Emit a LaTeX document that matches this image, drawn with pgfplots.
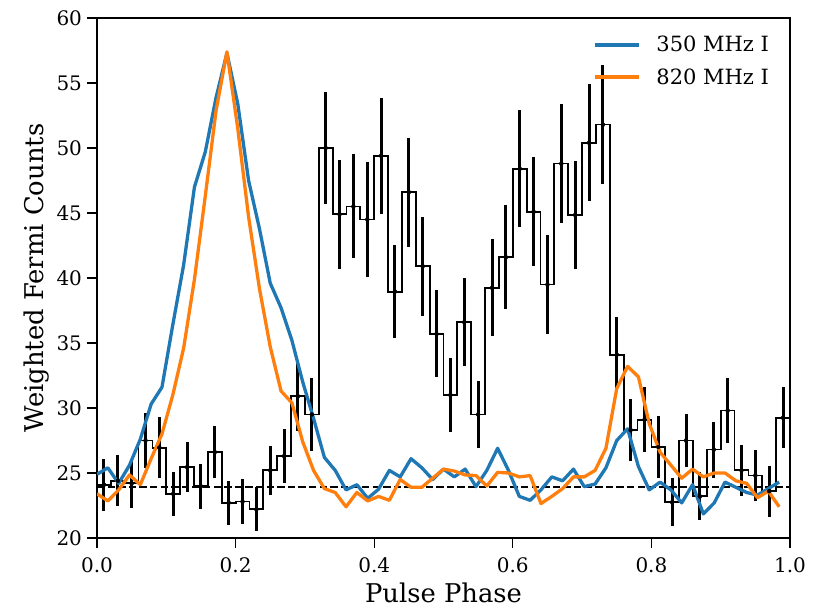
\documentclass[border=0pt]{standalone}
\usepackage{fontspec}
\setmainfont{DejaVu Serif}
\usepackage{pgfplots}
\usepackage{pgfplotstable}
\pgfplotsset{compat=1.18}
\definecolor{mplblue}{HTML}{1F77B4}
\definecolor{mplorange}{HTML}{FF7F0E}

\pgfplotstableread{
edge val err
0.00 24.1 2.0
0.02 24.4 1.95
0.04 24.2 1.9
0.06 27.5 2.1
0.08 26.95 2.35
0.10 23.4 1.7
0.12 25.45 1.95
0.14 23.97 1.75
0.16 26.6 2.0
0.18 22.7 1.7
0.20 22.8 1.7
0.22 22.2 1.7
0.24 25.2 1.9
0.26 26.3 2.1
0.28 30.9 2.7
0.30 29.5 2.8
0.32 50.0 4.3
0.34 44.9 4.2
0.36 45.5 4.0
0.38 44.5 4.4
0.40 49.4 4.45
0.42 38.95 3.55
0.44 46.6 4.2
0.46 40.9 3.8
0.48 35.7 3.35
0.50 31.0 2.85
0.52 36.6 3.4
0.54 29.5 2.55
0.56 39.25 3.75
0.58 41.6 4.0
0.60 48.4 4.5
0.62 45.1 4.2
0.64 39.5 3.8
0.66 48.8 4.55
0.68 44.85 4.15
0.70 50.4 4.5
0.72 51.8 4.6
0.74 34.1 2.9
0.76 28.3 2.4
0.78 29.1 2.5
0.80 27.0 2.4
0.82 22.75 1.85
0.84 27.5 2.05
0.86 23.2 1.85
0.88 26.8 2.15
0.90 29.8 2.5
0.92 25.2 1.95
0.94 24.8 1.95
0.96 23.6 1.95
0.98 29.25 2.35
1.00 29.25 0
}\hist

\pgfplotstableread{
j blue orange
0 24.9 23.4
1 25.4 22.85
2 24.2 23.7
3 25.6 24.85
4 27.6 24.1
5 30.3 26.1
6 31.6 28.0
7 36.4 31.0
8 41.0 34.6
9 47.0 39.9
10 49.7 46.3
11 53.9 52.9
12 57.3 57.4
13 53.4 51.5
14 47.5 44.7
15 43.8 39.2
16 39.6 34.7
17 37.7 31.3
18 35.2 30.4
19 32.0 27.4
20 29.2 25.2
21 26.2 23.8
22 25.2 23.5
23 23.7 22.4
24 24.1 23.5
25 23.05 22.85
26 23.75 23.2
27 25.2 22.9
28 24.7 24.5
29 26.1 23.9
30 25.4 23.9
31 24.5 24.6
32 25.3 25.3
33 24.7 25.15
34 25.3 24.85
35 23.95 24.8
36 25.2 24.0
37 26.9 25.05
38 25.2 25.0
39 23.2 24.7
40 22.9 24.8
41 23.7 22.65
42 24.7 23.2
43 24.4 23.8
44 25.3 24.7
45 23.95 24.7
46 24.15 25.2
47 25.4 26.9
48 27.5 31.5
49 28.4 33.2
50 25.5 32.4
51 23.7 28.8
52 24.3 26.6
53 23.7 25.6
54 22.7 24.6
55 24.1 25.3
56 21.85 24.7
57 22.7 25.0
58 24.3 25.0
59 23.9 24.4
60 23.5 24.2
61 23.3 23.1
62 23.8 23.6
63 24.3 22.4
}\prof

\begin{document}
\begin{tikzpicture}
\path[use as bounding box] (0pt,0pt) rectangle (814pt,610pt);
\begin{axis}[
  at={(97pt,72pt)}, anchor=south west,
  scale only axis, width=693pt, height=520pt,
  xmin=0, xmax=1, ymin=20, ymax=60,
  xtick={0,0.2,0.4,0.6,0.8,1.0},
  ytick={20,25,30,35,40,45,50,55,60},
  /pgf/number format/assume math mode=true,
  tick label style={font=\fontsize{20}{24}\selectfont},
  xticklabel style={yshift=-6pt, /pgf/number format/.cd, fixed, fixed zerofill, precision=1},
  yticklabel style={xshift=-1.5pt},
  xlabel={Pulse Phase}, ylabel={Weighted Fermi Counts},
  every axis x label/.style={at={(axis description cs:0.5,-0.125)}, anchor=base, font=\fontsize{25.8}{30}\selectfont},
  every axis y label/.style={at={(axis description cs:-0.0779,0.5)}, anchor=base, rotate=90, font=\fontsize{25.8}{30}\selectfont},
  tick align=outside, tick pos=left,
  major tick length=10pt,
  every tick/.style={black, line width=1.2pt},
  axis line style={line width=1.2pt},
  legend style={at={(axis description cs:0.97,0.965)}, anchor=north east, draw=none, fill=none,
    font=\fontsize{21}{25}\selectfont, row sep=15pt, column sep=16pt, inner sep=0pt, nodes={inner sep=0pt}},
  legend cell align=left,
  legend image code/.code={\draw[#1] (0pt,0pt) -- (44pt,0pt);},
]
\addplot[black, line width=1.8pt, const plot, forget plot] table[x=edge, y=val] {\hist};
\addplot[black, only marks, mark=none, forget plot, skip coords between index={50}{51},
  error bars/.cd, y dir=both, y explicit, error mark=none,
  error bar style={line width=3pt, black}]
  table[x expr=\thisrow{edge}+0.01, y=val, y error=err] {\hist};
\addplot[black, line width=2.3pt, dash pattern=on 7.4pt off 3.2pt, forget plot] coordinates {(0,23.93) (1,23.93)};
\addplot[mplblue, line width=3.3pt, line join=round] table[x expr=\thisrow{j}/64, y=blue] {\prof};
\addlegendentry{350 MHz I}
\addplot[mplorange, line width=3.3pt, line join=round] table[x expr=\thisrow{j}/64, y=orange] {\prof};
\addlegendentry{820 MHz I}
\end{axis}
\end{tikzpicture}
\end{document}
